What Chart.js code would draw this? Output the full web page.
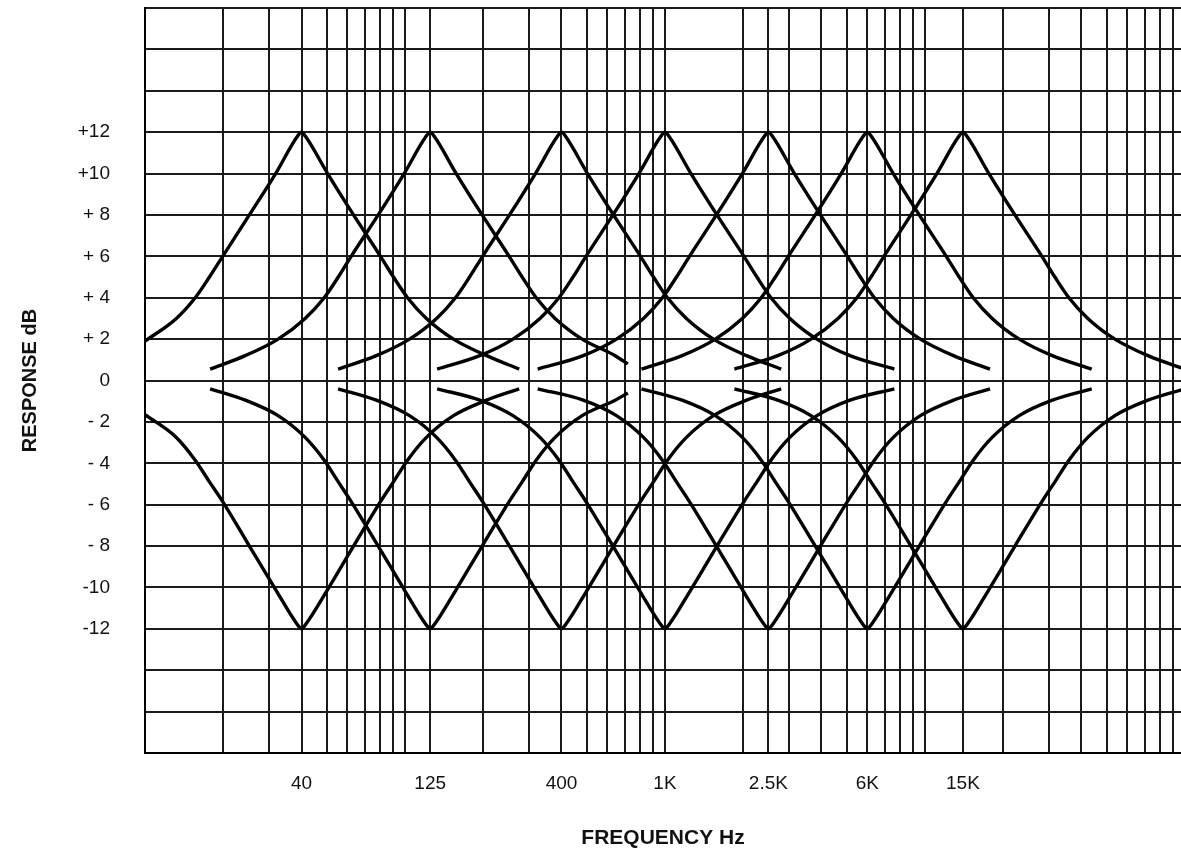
<!DOCTYPE html>
<html>
<head>
<meta charset="utf-8">
<title>Equalizer response</title>
<script src="https://cdn.jsdelivr.net/npm/chart.js@4.4.1/dist/chart.umd.min.js"></script>
<style>
  html, body { margin: 0; padding: 0; background: #fff; }
  #eqChart { display: block; }
</style>
</head>
<body>
<canvas id="eqChart" width="1181" height="851"></canvas>
<script>
// Band centres (as drawn on the sheet) and the labels printed under them
var bandFreqs = [40, 125, 400, 1000, 2500, 6000, 14000];
var bandLabels = ["40", "125", "400", "1K", "2.5K", "6K", "15K"];

// Vertical lines of the log paper, plus the extra band lines at 125, 2.5K and 15K
var gridFreqs = [10, 20, 30, 40, 50, 60, 70, 80, 90,
  100, 125, 200, 300, 400, 500, 600, 700, 800, 900,
  1000, 2000, 2500, 3000, 4000, 5000, 6000, 7000, 8000, 9000,
  10000, 14000, 20000, 30000, 40000, 50000, 60000, 70000, 80000, 90000];

var dbTicks = [12, 10, 8, 6, 4, 2, 0, -2, -4, -6, -8, -10, -12];
var dbLabels = ["+12", "+10", "+ 8", "+ 6", "+ 4", "+ 2", "0", "- 2", "- 4", "- 6", "- 8", "-10", "-12"];

// Boost curves, [Hz, dB]
var boost40 = [[10, 1.9], [13.2, 3.0], [15.6, 4.0], [17.7, 5.0], [19.9, 6.0], [25.2, 8.0], [31.8, 10.0], [38.6, 11.8],
  [40, 12], [41.4, 11.8], [50.4, 10.0], [63.4, 8.0], [80.5, 6.0], [90.3, 5.0], [102.3, 4.0], [120.9, 3.0], [153.7, 2.0],
  [206, 1.2], [275, 0.55]];
var boost125 = [[17.8, 0.55], [24.3, 1.2], [32.5, 2.0], [41.3, 3.0], [48.9, 4.0], [55.4, 5.0], [62.1, 6.0], [78.9, 8.0],
  [99.3, 10.0], [120.6, 11.8], [125, 12], [129.5, 11.8], [157.4, 10.0], [198.1, 8.0], [251.6, 6.0], [282.3, 5.0],
  [319.6, 4.0], [377.9, 3.0], [480.3, 2.0], [643.6, 1.2], [720, 0.8]];
var boost400 = [[55.3, 0.55], [77.6, 1.2], [104.1, 2.0], [132.3, 3.0], [156.4, 4.0], [177.2, 5.0], [198.8, 6.0], [252.4, 8.0],
  [317.6, 10.0], [386, 11.8], [400, 12], [414.4, 11.8], [503.6, 10.0], [634, 8.0], [805.2, 6.0], [903.2, 5.0],
  [1022.8, 4.0], [1209.2, 3.0], [1536.8, 2.0], [2059.6, 1.2], [2800, 0.55]];
var boost1k = [[133, 0.55], [194, 1.2], [260.3, 2.0], [330.7, 3.0], [391.1, 4.0], [443, 5.0], [496.9, 6.0], [631, 8.0],
  [794, 10.0], [965, 11.8], [1000, 12], [1036, 11.8], [1259, 10.0], [1585, 8.0], [2013, 6.0], [2258, 5.0],
  [2557, 4.0], [3023, 3.0], [3842, 2.0], [5149, 1.2], [7630, 0.55]];
var boost2k5 = [[324, 0.55], [485, 1.2], [650.8, 2.0], [826.8, 3.0], [977.8, 4.0], [1107.5, 5.0], [1242.3, 6.0], [1577.5, 8.0],
  [1985, 10.0], [2412.5, 11.8], [2500, 12], [2590, 11.8], [3147.5, 10.0], [3962.5, 8.0], [5032.5, 6.0], [5645, 5.0],
  [6392.5, 4.0], [7557.5, 3.0], [9605, 2.0], [12872.5, 1.2], [17800, 0.55]];
var boost6k = [[812, 0.55], [1164, 1.2], [1561.8, 2.0], [1984.2, 3.0], [2346.6, 4.0], [2658, 5.0], [2981.4, 6.0], [3786, 8.0],
  [4764, 10.0], [5790, 11.8], [6000, 12], [6216, 11.8], [7554, 10.0], [9510, 8.0], [12078, 6.0], [13548, 5.0],
  [15342, 4.0], [18138, 3.0], [23052, 2.0], [30894, 1.2], [43800, 0.55]];
var boost15k = [[1850, 0.55], [2716, 1.2], [3644.2, 2.0], [4629.8, 3.0], [5475.4, 4.0], [6202, 5.0], [6956.6, 6.0], [8834, 8.0],
  [11116, 10.0], [13510, 11.8], [14000, 12], [14504, 11.8], [17626, 10.0], [22190, 8.0], [28182, 6.0], [31612, 5.0],
  [35798, 4.0], [42322, 3.0], [53788, 2.0], [72086, 1.2], [100000, 0.55]];

// Cut curves, [Hz, dB]
var cut40 = [[10, -1.65], [13.2, -2.75], [15.6, -3.85], [17.7, -4.9], [19.9, -5.85], [25.2, -8.0], [31.8, -10.1], [38.6, -11.8],
  [40, -12], [41.4, -11.8], [50.4, -10.1], [63.4, -8.0], [80.5, -5.85], [90.3, -4.9], [102.3, -3.85], [120.9, -2.75],
  [153.7, -1.7], [206, -0.95], [275, -0.4]];
var cut125 = [[17.8, -0.4], [24.3, -0.95], [32.5, -1.7], [41.3, -2.75], [48.9, -3.85], [55.4, -4.9], [62.1, -5.85], [78.9, -8.0],
  [99.3, -10.1], [120.6, -11.8], [125, -12], [129.5, -11.8], [157.4, -10.1], [198.1, -8.0], [251.6, -5.85], [282.3, -4.9],
  [319.6, -3.85], [377.9, -2.75], [480.3, -1.7], [643.6, -0.95], [720, -0.6]];
var cut400 = [[55.3, -0.4], [77.6, -0.95], [104.1, -1.7], [132.3, -2.75], [156.4, -3.85], [177.2, -4.9], [198.8, -5.85], [252.4, -8.0],
  [317.6, -10.1], [386, -11.8], [400, -12], [414.4, -11.8], [503.6, -10.1], [634, -8.0], [805.2, -5.85], [903.2, -4.9],
  [1022.8, -3.85], [1209.2, -2.75], [1536.8, -1.7], [2059.6, -0.95], [2800, -0.4]];
var cut1k = [[133, -0.4], [194, -0.95], [260.3, -1.7], [330.7, -2.75], [391.1, -3.85], [443, -4.9], [496.9, -5.85], [631, -8.0],
  [794, -10.1], [965, -11.8], [1000, -12], [1036, -11.8], [1259, -10.1], [1585, -8.0], [2013, -5.85], [2258, -4.9],
  [2557, -3.85], [3023, -2.75], [3842, -1.7], [5149, -0.95], [7630, -0.4]];
var cut2k5 = [[324, -0.4], [485, -0.95], [650.8, -1.7], [826.8, -2.75], [977.8, -3.85], [1107.5, -4.9], [1242.3, -5.85], [1577.5, -8.0],
  [1985, -10.1], [2412.5, -11.8], [2500, -12], [2590, -11.8], [3147.5, -10.1], [3962.5, -8.0], [5032.5, -5.85], [5645, -4.9],
  [6392.5, -3.85], [7557.5, -2.75], [9605, -1.7], [12872.5, -0.95], [17800, -0.4]];
var cut6k = [[812, -0.4], [1164, -0.95], [1561.8, -1.7], [1984.2, -2.75], [2346.6, -3.85], [2658, -4.9], [2981.4, -5.85], [3786, -8.0],
  [4764, -10.1], [5790, -11.8], [6000, -12], [6216, -11.8], [7554, -10.1], [9510, -8.0], [12078, -5.85], [13548, -4.9],
  [15342, -3.85], [18138, -2.75], [23052, -1.7], [30894, -0.95], [43800, -0.4]];
var cut15k = [[1850, -0.4], [2716, -0.95], [3644.2, -1.7], [4629.8, -2.75], [5475.4, -3.85], [6202, -4.9], [6956.6, -5.85], [8834, -8.0],
  [11116, -10.1], [13510, -11.8], [14000, -12], [14504, -11.8], [17626, -10.1], [22190, -8.0], [28182, -5.85], [31612, -4.9],
  [35798, -3.85], [42322, -2.75], [53788, -1.7], [72086, -0.95], [100000, -0.4]];

var curves = [boost40, boost125, boost400, boost1k, boost2k5, boost6k, boost15k,
  cut40, cut125, cut400, cut1k, cut2k5, cut6k, cut15k];

var FONT = "'Liberation Sans', Arial, Helvetica, sans-serif";

var datasets = curves.map(function (pts) {
  return {
    data: pts.map(function (p) { return { x: p[0], y: p[1] }; }),
    borderColor: "#000",
    borderWidth: 3.4,
    borderJoinStyle: "round",
    pointRadius: 0,
    fill: false,
    cubicInterpolationMode: "monotone"
  };
});

new Chart(document.getElementById("eqChart"), {
  type: "line",
  data: { datasets: datasets },
  options: {
    responsive: false,
    animation: false,
    devicePixelRatio: 1,
    layout: { padding: { top: 8, right: 0, bottom: 0, left: 0 } },
    plugins: {
      legend: { display: false },
      tooltip: { enabled: false }
    },
    scales: {
      x: {
        type: "logarithmic",
        min: 10,
        max: 96600,
        afterBuildTicks: function (scale) {
          scale.ticks = gridFreqs.map(function (v) { return { value: v }; });
        },
        afterFit: function (scale) {
          scale.height = 98;
          // keep the grid running right to the canvas edges
          scale.paddingLeft = 0;
          scale.paddingRight = 0;
        },
        ticks: {
          autoSkip: false,
          maxRotation: 0,
          minRotation: 0,
          padding: 19,
          color: "#111",
          font: { family: FONT, size: 19 },
          callback: function (value) {
            var i = bandFreqs.indexOf(value);
            return i >= 0 ? bandLabels[i] : "";
          }
        },
        grid: { color: "#1a1a1a", lineWidth: 2, drawTicks: false },
        border: { display: true, color: "#000", width: 2 },
        title: {
          display: true,
          text: "FREQUENCY Hz",
          color: "#111",
          font: { family: FONT, size: 21, weight: "bold" },
          padding: { top: 0, bottom: 0 }
        }
      },
      y: {
        type: "linear",
        min: -18,
        max: 18,
        afterFit: function (scale) {
          scale.width = 145;
          scale.paddingTop = 0;
          scale.paddingBottom = 0;
        },
        ticks: {
          stepSize: 2,
          padding: 35,
          color: "#111",
          font: { family: FONT, size: 19 },
          callback: function (value) {
            var i = dbTicks.indexOf(value);
            return i >= 0 ? dbLabels[i] : "";
          }
        },
        grid: { color: "#1a1a1a", lineWidth: 2, drawTicks: false },
        border: { display: true, color: "#000", width: 2 },
        title: {
          display: true,
          text: "RESPONSE dB",
          color: "#111",
          font: { family: FONT, size: 20, weight: "bold" },
          padding: { top: 18, bottom: 0 }
        }
      }
    }
  }
});
</script>
</body>
</html>
